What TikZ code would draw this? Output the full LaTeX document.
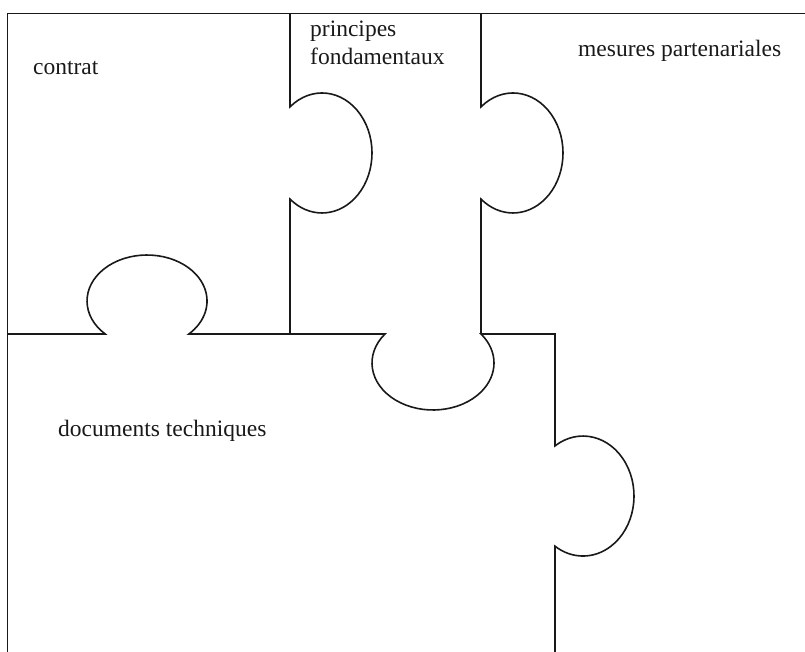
\documentclass[tikz,border=0pt]{standalone}
\usepackage{fontspec}
\setmainfont{Liberation Serif}
\begin{document}
\begin{tikzpicture}[x=1pt,y=1pt,
  edge/.style={draw=black!90, line width=1.6pt, line join=miter},
  label/.style={anchor=base west, inner sep=0pt, font=\fontsize{23.5}{28}\selectfont, text=black!90}]
\useasboundingbox (0,0) rectangle (805,652);

% outer frame: top and left edges
\draw[edge] (7.5,0) -- (7.5,638.5) -- (805,638.5);

% first vertical cut with its tab pointing right
\draw[edge] (290,638.5) -- (290,545.1)
  arc[start angle=129.8, end angle=-129.8, x radius=50, y radius=60]
  -- (290,318);

% second vertical cut with its tab pointing right
\draw[edge] (481,638.5) -- (481,545.1)
  arc[start angle=129.8, end angle=-129.8, x radius=50, y radius=60]
  -- (481,318);

% horizontal cut: tab up, then tab down, then step to the lower-right piece
\draw[edge] (7.5,318) -- (105.2,318)
  arc[start angle=225.8, end angle=-45.8, x radius=60, y radius=46]
  -- (385,318)
  arc[start angle=141.9, end angle=398.1, x radius=61, y radius=47]
  -- (555,318) -- (555,206.1)
  arc[start angle=123.3, end angle=-123.3, x radius=51, y radius=60]
  -- (555,0);

% piece names
\node[label] (contrat) at (33,577) {contrat};
\node[label] (princ) at (310,615) {principes};
\node[label] (fond) at (310,587) {fondamentaux};
\node[label] (mesures) at (578,595.3) {mesures partenariales};
\node[label] (docs) at (58,215.3) {documents techniques};
\end{tikzpicture}
\end{document}
